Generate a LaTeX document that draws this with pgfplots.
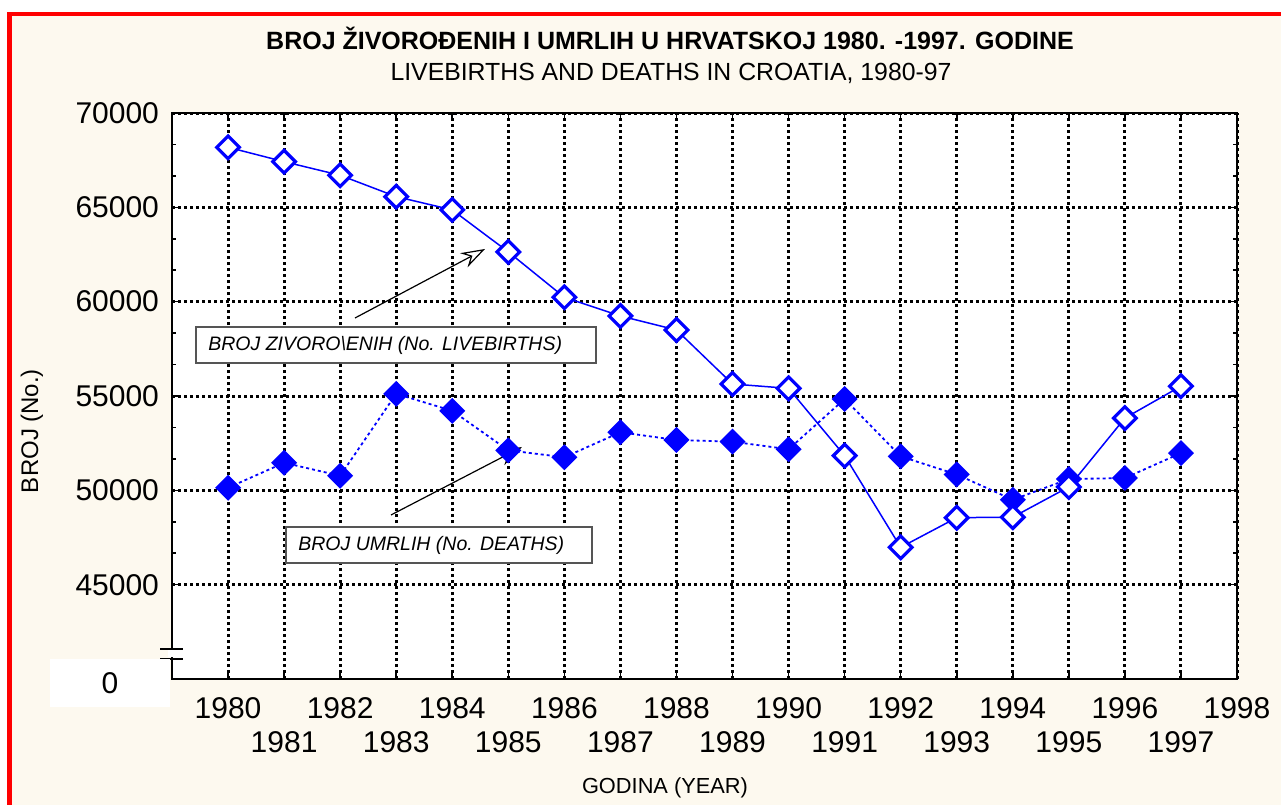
\documentclass[border=0pt]{standalone}
\usepackage{fontspec}
\setmainfont{Liberation Sans}
\usepackage{pgfplots}
\pgfplotsset{compat=1.18}
\usetikzlibrary{arrows.meta}
\definecolor{cream}{RGB}{253,249,239}
\definecolor{boxgray}{RGB}{85,85,85}
\begin{document}
\begin{tikzpicture}[x=0.5pt,y=0.5pt]
\useasboundingbox (0,0) rectangle (1281,805);
\fill[white] (0,0) rectangle (1281,805);
\fill[cream] (12,0) rectangle (1281,789);
\fill[red] (7,789) rectangle (1281,793);
\fill[red] (7,0) rectangle (12,793);
% titles
\node[font=\bfseries\fontsize{12.5}{14}\selectfont] at (670,767) {BROJ ŽIVOROĐENIH I UMRLIH U HRVATSKOJ 1980. -1997. GODINE};
\node[font=\fontsize{12.4}{14}\selectfont] at (671,732) {LIVEBIRTHS AND DEATHS IN CROATIA, 1980-97};
\begin{axis}[
  at={(86pt,63pt)}, anchor=south west,
  scale only axis, width=532.5pt, height=283pt,
  xmin=1979, xmax=1998, ymin=40000, ymax=70000,
  axis background/.style={fill=white},
  axis line style={black, line width=1pt},
  xtick={1980,1982,1984,1986,1988,1990,1992,1994,1996,1998},
  xticklabels={1980,1982,1984,1986,1988,1990,1992,1994,1996,1998},
  extra x ticks={1981,1983,1985,1987,1989,1991,1993,1995,1997},
  extra x tick labels={1981,1983,1985,1987,1989,1991,1993,1995,1997},
  extra x tick style={grid=major, xticklabel style={yshift=-17pt}},
  xticklabel style={yshift=-5.5pt},
  yticklabel style={xshift=-3pt},
  ytick={45000,50000,55000,60000,65000,70000},
  yticklabels={45000,50000,55000,60000,65000,70000},
  scaled y ticks=false,
  minor y tick num=2,
  tick align=inside,
  major tick length=3pt, minor tick length=2pt,
  tick style={black, line width=0.8pt},
  grid=major,
  major grid style={black, line width=1.5pt, dash pattern=on 1.5pt off 1.5pt},
  ticklabel style={font=\fontsize{15}{17}\selectfont},
  /pgf/number format/assume math mode=true,
  clip=false,
]
\addplot[blue, line width=0.9pt, dash pattern=on 1.5pt off 1.5pt,
  mark=square*, mark size=4pt,
  mark options={rotate=45, solid, fill=blue, draw=blue, line width=1.2pt}]
coordinates {
(1980,50137) (1981,51460) (1982,50772) (1983,55116) (1984,54215)
(1985,52120) (1986,51753) (1987,53077) (1988,52669) (1989,52580)
(1990,52176) (1991,54842) (1992,51800) (1993,50840) (1994,49500)
(1995,50600) (1996,50650) (1997,51975)
};
\addplot[blue, line width=0.75pt,
  mark=square*, mark size=4pt,
  mark options={rotate=45, solid, fill=white, draw=blue, line width=1.6pt}]
coordinates {
(1980,68183) (1981,67420) (1982,66700) (1983,65567) (1984,64864)
(1985,62637) (1986,60232) (1987,59241) (1988,58499) (1989,55637)
(1990,55405) (1991,51837) (1992,46980) (1993,48550) (1994,48580)
(1995,50180) (1996,53830) (1997,55520)
};
% arrows
\draw[black, line width=0.6pt, -{Stealth[open, length=12pt, width=8pt, inset=4pt]}]
  (axis cs:1982.265,59135) -- (axis cs:1984.584,62792);
\draw[black, line width=0.6pt, -{Stealth[length=12pt, width=8pt, inset=4pt]}]
  (axis cs:1982.907,48694) -- (axis cs:1985.244,52298);
\end{axis}
% annotation boxes
\draw[boxgray, line width=0.8pt, fill=white] (196,442) rectangle (596,478);
\node[anchor=west, inner sep=0pt, font=\itshape\fontsize{9.75}{11}\selectfont] at (208,460) {BROJ ZIVORO\textbackslash ENIH (No. LIVEBIRTHS)};
\draw[boxgray, line width=0.8pt, fill=white] (286,242) rectangle (592,278);
\node[anchor=west, inner sep=0pt, font=\itshape\fontsize{9.75}{11}\selectfont] at (298,260) {BROJ UMRLIH (No. DEATHS)};
% axis break and zero label
\fill[white] (168,148) rectangle (178,155);
\draw[black, line width=1pt] (160,146) -- (183,146);
\draw[black, line width=1pt] (160,156) -- (183,156);
\fill[white] (50,98) rectangle (170,146);
\node[font=\fontsize{15}{17}\selectfont] at (110,122) {0};
% axis labels
\node[rotate=90, font=\fontsize{12}{14}\selectfont] at (32,374) {BROJ (No.)};
\node[font=\fontsize{10.9}{12}\selectfont] at (665,17) {GODINA (YEAR)};
\end{tikzpicture}
\end{document}
